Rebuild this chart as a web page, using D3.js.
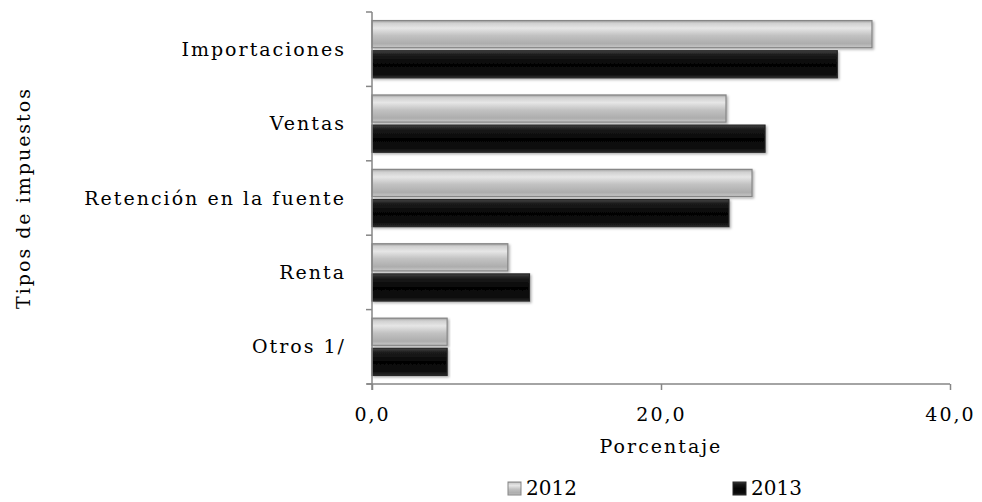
<!DOCTYPE html>
<html>
<head>
<meta charset="utf-8">
<script src="https://cdnjs.cloudflare.com/ajax/libs/d3/7.8.5/d3.min.js"></script>
<style>
  body { margin: 0; background: #fff; }
  text { font-family: "DejaVu Serif", serif; fill: #000; }
  .lbl { font-size: 19px; letter-spacing: 2px; }
</style>
</head>
<body>
<svg id="chart"></svg>
<script>
var categories = ["Importaciones", "Ventas", "Retención en la fuente", "Renta", "Otros 1/"];
var series = ["2012", "2013"];
var values2012 = [34.6, 24.5, 26.3, 9.4, 5.2];
var values2013 = [32.2, 27.2, 24.7, 10.9, 5.2];
var tickValues = [0, 20, 40];

var width = 982, height = 502;
var paddings = { top: 12, bottom: 118, left: 372, right: 32 };

var svg = d3.select("#chart").attr("width", width).attr("height", height);

var data = categories.map(function(c, i) {
  return { cat: c, v: [values2012[i], values2013[i]] };
});

var xscale = d3.scaleLinear()
  .domain([0, 40])
  .range([paddings.left, 950]);

var yscale = d3.scaleBand()
  .domain(categories)
  .range([paddings.top, height - paddings.bottom])
  .paddingInner(0.23)
  .paddingOuter(0.115);

var sub = d3.scaleBand()
  .domain(series)
  .range([0, yscale.bandwidth()])
  .paddingInner(0.1);

// gradients
var defs = svg.append("defs");
function grad(id, stops) {
  var g = defs.append("linearGradient").attr("id", id)
    .attr("x1", 0).attr("y1", 0).attr("x2", 0).attr("y2", 1);
  stops.forEach(function(s) {
    g.append("stop").attr("offset", s[0]).attr("stop-color", s[1]);
  });
}
grad("g2012", [[0, "#a0a0a0"], [0.1, "#d0d0d0"], [0.28, "#e6e6e6"], [0.55, "#c2c2c2"], [0.85, "#adadad"], [1, "#c8c8c8"]]);
grad("g2013", [[0, "#444"], [0.15, "#1c1c1c"], [0.5, "#050505"], [0.85, "#0b0b0b"], [1, "#2a2a2a"]]);

var filter = defs.append("filter").attr("id", "shadow")
  .attr("x", "-5%").attr("y", "-20%").attr("width", "110%").attr("height", "150%");
filter.append("feDropShadow").attr("dx", 1.5).attr("dy", 1.5).attr("stdDeviation", 1.2)
  .attr("flood-color", "#000").attr("flood-opacity", 0.3);

var fills = { "2012": "url(#g2012)", "2013": "url(#g2013)" };
var strokes = { "2012": "#858585", "2013": "#262626" };

// bars
var groups = svg.append("g").attr("class", "bars")
  .selectAll("g")
  .data(data)
  .enter()
  .append("g")
  .attr("transform", function(d) { return "translate(0," + yscale(d.cat) + ")"; });

groups.selectAll("rect")
  .data(function(d) { return series.map(function(s, i) { return { s: s, v: d.v[i] }; }); })
  .enter()
  .append("rect")
  .attr("x", xscale(0))
  .attr("y", function(d) { return sub(d.s); })
  .attr("width", function(d) { return xscale(d.v) - xscale(0); })
  .attr("height", sub.bandwidth())
  .attr("fill", function(d) { return fills[d.s]; })
  .attr("stroke", function(d) { return strokes[d.s]; })
  .attr("stroke-width", 1.2)
  .attr("filter", "url(#shadow)");

// X axis
var xaxis = d3.axisBottom(xscale)
  .tickValues(tickValues)
  .tickSize(6)
  .tickFormat(function(d) { return d3.format(".1f")(d).replace(".", ","); });

var gx = svg.append("g")
  .attr("transform", "translate(0," + (height - paddings.bottom) + ")")
  .call(xaxis);
gx.select(".domain").attr("stroke", "#868686").attr("stroke-width", 1.5)
  .attr("d", "M" + (xscale(0) - 5) + ",0H" + xscale(40));
gx.selectAll(".tick line").attr("stroke", "#868686").attr("stroke-width", 1.5);
gx.selectAll(".tick text").attr("dy", 0).attr("y", 37)
  .attr("class", "lbl").attr("fill", "#000");
gx.attr("font-family", null).attr("font-size", null);

// Y axis (ticks between categories)
var bounds = [paddings.top, height - paddings.bottom];
var step = yscale.step();
var tickPos = d3.range(categories.length + 1).map(function(i) { return paddings.top + i * step; });
var gy = svg.append("g");
gy.append("line")
  .attr("x1", xscale(0)).attr("x2", xscale(0))
  .attr("y1", bounds[0]).attr("y2", bounds[1] + 6)
  .attr("stroke", "#868686").attr("stroke-width", 1.5);
gy.selectAll(".yt")
  .data(tickPos)
  .enter()
  .append("line")
  .attr("x1", xscale(0) - 6).attr("x2", xscale(0))
  .attr("y1", function(d) { return d; }).attr("y2", function(d) { return d; })
  .attr("stroke", "#868686").attr("stroke-width", 1.5);

gy.selectAll(".ylab")
  .data(categories)
  .enter()
  .append("text")
  .attr("class", "lbl")
  .attr("x", xscale(0) - 26)
  .attr("y", function(d) { return yscale(d) + yscale.bandwidth() / 2; })
  .attr("dy", "0.35em")
  .attr("text-anchor", "end")
  .text(function(d) { return d; });

// axis titles
svg.append("text")
  .attr("class", "lbl")
  .attr("transform", "translate(30," + ((bounds[0] + bounds[1]) / 2) + ") rotate(-90)")
  .attr("text-anchor", "middle")
  .text("Tipos de impuestos");

svg.append("text")
  .attr("class", "lbl")
  .attr("x", xscale(20))
  .attr("y", 453)
  .attr("text-anchor", "middle")
  .text("Porcentaje");

// legend
var legendX = [508, 733];
var legend = svg.append("g").selectAll("g")
  .data(series)
  .enter()
  .append("g")
  .attr("transform", function(d, i) { return "translate(" + legendX[i] + ",482)"; });
legend.append("rect")
  .attr("width", 13).attr("height", 13)
  .attr("fill", function(d) { return fills[d]; })
  .attr("stroke", function(d) { return strokes[d]; });
legend.append("text")
  .attr("x", 18).attr("y", 13)
  .style("font-size", "20px")
  .text(function(d) { return d; });
</script>
</body>
</html>
